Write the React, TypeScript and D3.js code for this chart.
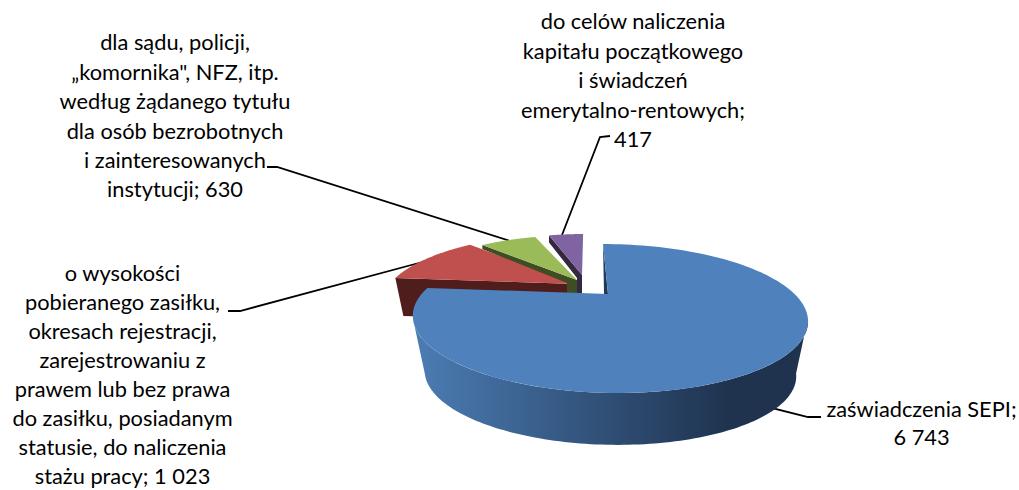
import React from "react";
import * as d3 from "d3";

const sliceNames = ["SEPI", "zasilek", "sad", "kapital"];
const sliceValues = [6743, 1023, 630, 417];
const topColors = ["#4f81bd", "#c0504d", "#9bbb59", "#8064a2"];
const wallColors = ["#1f3a5c", "#4f1e1c", "#3f4d24", "#332840"];

const label0 = ["zaświadczenia SEPI;", "6 743"];
const label1 = ["o wysokości", "pobieranego zasiłku,", "okresach rejestracji,", "zarejestrowaniu z", "prawem lub bez prawa", "do zasiłku, posiadanym", "statusie, do naliczenia", "stażu pracy; 1 023"];
const label2 = ["dla sądu, policji,", "„komornika\", NFZ, itp.", "według żądanego tytułu", "dla osób bezrobotnych", "i zainteresowanych", "instytucji; 630"];
const label3 = ["do celów naliczenia", "kapitału początkowego", "i świadczeń", "emerytalno-rentowych;", "417"];

const labelBlocks = [
  { lines: label0, x: 921.5, y: 412, step: 28 },
  { lines: label1, x: 122.5, y: 275.5, step: 29.05 },
  { lines: label2, x: 175, y: 45, step: 29.4 },
  { lines: label3, x: 633, y: 24, step: 29.5 },
];

const leaders = [
  [[760, 405], [808, 417], [821, 417]],
  [[228, 311], [240, 311], [430, 260]],
  [[267, 167], [277, 167], [510, 241]],
  [[610, 136], [600, 137], [562, 235]],
];

// perspective model of a disc: apex position, radii, foreshortening and shear
const K = 0.329;
const A = 186.5;
const B = 66.4;
const S = -6.6;
const project = (ax: number, ay: number, scale: number, shear: number, sb = 1) => (deg: number): [number, number] => {
  const t = (deg * Math.PI) / 180;
  const u = Math.sin(t);
  const v = Math.cos(t);
  const w = 1 + K * v;
  return [ax + (scale * (A * u) + shear * v) / w, ay - (sb * scale * B * v) / w];
};

const slicePlacement = [
  { ax: 608, ay: 294, scale: 1, shear: S },
  { ax: 576, ay: 284, scale: 1, shear: S },
  { ax: 577, ay: 280, scale: 0.89, shear: S },
  { ax: 582, ay: 275, scale: 0.82, shear: 1.5 },
];

const pieAngles = d3.pie<number>().sort(null).value((d) => d)(sliceValues);
const toDeg = d3.scaleLinear().domain([0, 2 * Math.PI]).range([0, 360]);
const line = d3.line();
const degs = (a: number, b: number) => d3.range(0, 121).map((i) => a + ((b - a) * i) / 120);

const faces = pieAngles.map((p, i) => {
  const pl = slicePlacement[i];
  const f = project(pl.ax, pl.ay, pl.scale, pl.shear);
  const start = toDeg(p.startAngle);
  const end = toDeg(p.endAngle);
  const pts: [number, number][] = [[pl.ax, pl.ay], ...degs(start, end).map(f)];
  return { d: line(pts) + "Z", corner: f(start), apex: [pl.ax, pl.ay] as [number, number] };
});

const wallOffsets = [
  null,
  { cx: 8, cy: 38, ax: 0, ay: 37, inner: 0 },
  { cx: 0, cy: 4, ax: 1, ay: 18, inner: 10 },
  { cx: 0, cy: 7, ax: 0, ay: 20, inner: 5 },
];

const walls = faces.map((f, i) => {
  const o = wallOffsets[i];
  if (!o) return null;
  const [cx, cy] = f.corner;
  const [ax, ay] = f.apex;
  const pts: [number, number][] = [[cx, cy], [ax, ay], [ax + o.ax, ay + o.ay]];
  if (o.inner) {
    pts.push([ax - o.inner, ay + o.ay], [ax - o.inner, ay + 3]);
  }
  pts.push([cx + o.cx, cy + o.cy]);
  return line(pts) + "Z";
});

const blueTop = project(608, 294, 1, S);
const blueBottom = project(608, 350, 0.94, S, 1.02);
const sideDegs = degs(109.2, 250.8);
const sidePath = line([...sideDegs.map(blueTop), ...sideDegs.slice().reverse().map(blueBottom)]) + "Z";
const blueCut = line([blueTop(0), [blueTop(0)[0] + 1, 294], [608, 294]]) + "Z";

const gradStops = [
  [0, "#4c7db3"],
  [0.2, "#406a9b"],
  [0.5, "#2f4e74"],
  [0.8, "#1f334f"],
  [1, "#1f334f"],
];

export default function App() {
  return (
    <svg width={1019} height={490} style={{ position: "absolute", left: 0, top: 0, display: "block" }}>
      <defs>
        <linearGradient id="side" gradientUnits="userSpaceOnUse" x1={413} x2={808} y1={0} y2={0}>
          {gradStops.map(([o, c]) => (
            <stop key={o as number} offset={o as number} stopColor={c as string} />
          ))}
        </linearGradient>
      </defs>
      <rect width={1019} height={490} fill="#fff" />
      {leaders.map((l, i) => (
        <path key={i} d={line(l as [number, number][]) as string} fill="none" stroke="#000" strokeWidth={1.8} />
      ))}
      {[1, 2, 3].map((i) => (
        <g key={sliceNames[i]}>
          <path d={walls[i] as string} fill={wallColors[i]} />
          <path d={faces[i].d} fill={topColors[i]} />
        </g>
      ))}
      <path d={sidePath} fill="url(#side)" />
      <path d={blueCut as string} fill={wallColors[0]} />
      <path d={faces[0].d} fill={topColors[0]} />
      <g fontFamily="Lato, 'Open Sans', sans-serif" fontSize={21.8} fill="#000" textAnchor="middle">
        {labelBlocks.map((b, i) =>
          b.lines.map((t, j) => (
            <text key={i + "-" + j} x={b.x} y={b.y + j * b.step} dy="0.25em">
              {t}
            </text>
          ))
        )}
      </g>
    </svg>
  );
}
